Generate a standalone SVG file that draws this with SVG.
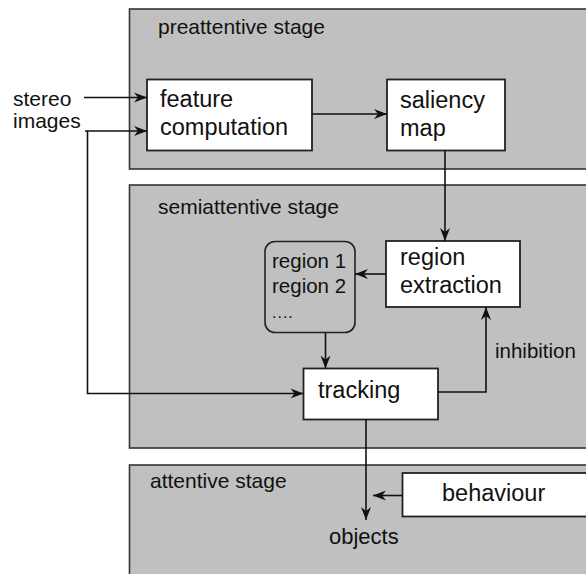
<svg xmlns="http://www.w3.org/2000/svg" width="586" height="574" viewBox="0 0 586 574">
  <style>
    .stage { fill: #c0c0c0; stroke: #333; stroke-width: 1.6; }
    .box { fill: #fff; stroke: #222; stroke-width: 1.8; }
    .t { font-family: "Liberation Sans", Arial, sans-serif; fill: #111; }
    .big { font-size: 23.5px; }
    .mid { font-size: 21px; }
    .sm { font-size: 20.5px; }
    .edge { fill: none; stroke: #111; stroke-width: 1.6; }
  </style>
  <defs>
    <marker id="arrow" markerUnits="userSpaceOnUse" markerWidth="14" markerHeight="12" refX="13" refY="6" orient="auto">
      <path d="M0,1 L13,6 L0,11 L4,6 z" fill="#111"/>
    </marker>
  </defs>

  <rect width="586" height="574" fill="#fff"/>

  <!-- processing stages -->
  <g id="stage-preattentive">
    <rect class="stage" x="129.5" y="9" width="470" height="160"/>
    <text class="t mid" x="158" y="34">preattentive stage</text>
  </g>
  <g id="stage-semiattentive">
    <rect class="stage" x="129.5" y="185" width="470" height="263"/>
    <text class="t mid" x="158" y="214">semiattentive stage</text>
  </g>
  <g id="stage-attentive">
    <rect class="stage" x="129.5" y="465" width="470" height="120"/>
    <text class="t mid" x="150" y="488">attentive stage</text>
  </g>

  <!-- input label -->
  <g id="stereo-images">
    <text class="t mid" x="13" y="106">stereo</text>
    <text class="t mid" x="13" y="128">images</text>
  </g>

  <g id="feature-computation">
    <rect class="box" x="147" y="79.5" width="165" height="71"/>
    <text class="t big" x="160" y="107">feature</text>
    <text class="t big" x="160" y="135">computation</text>
  </g>

  <g id="saliency-map">
    <rect class="box" x="387" y="79.5" width="118" height="71"/>
    <text class="t big" x="400" y="108">saliency</text>
    <text class="t big" x="400" y="136">map</text>
  </g>

  <g id="region-extraction">
    <rect class="box" x="386" y="241" width="134" height="66"/>
    <text class="t big" x="400" y="265">region</text>
    <text class="t big" x="400" y="293">extraction</text>
  </g>

  <g id="region-list">
    <rect x="265" y="241.5" width="90" height="91" rx="10" ry="10" fill="#c0c0c0" stroke="#222" stroke-width="1.6"/>
    <text class="t sm" x="272" y="268">region 1</text>
    <text class="t sm" x="272" y="293">region 2</text>
    <text class="t" x="272" y="318" fill="#444" style="font-size:16px;letter-spacing:1px">....</text>
  </g>

  <g id="tracking">
    <rect class="box" x="303.5" y="368.5" width="134.5" height="51"/>
    <text class="t big" x="318" y="398">tracking</text>
  </g>

  <g id="behaviour">
    <rect class="box" x="402.5" y="473" width="190" height="43.5"/>
    <text class="t big" x="442" y="501">behaviour</text>
  </g>

  <g id="objects">
    <text class="t mid" x="329" y="544" style="font-size:22px">objects</text>
  </g>

  <g id="inhibition-label">
    <text class="t sm" x="495" y="358">inhibition</text>
  </g>

  <!-- connectors -->
  <g id="connectors">
    <path class="edge" d="M84,97.5 H147" marker-end="url(#arrow)"/>
    <path class="edge" d="M85,131 H147" marker-end="url(#arrow)"/>
    <path class="edge" d="M87.5,131 V393.5 H303.5" marker-end="url(#arrow)"/>
    <path class="edge" d="M312,114 H387" marker-end="url(#arrow)"/>
    <path class="edge" d="M445,150.5 V241" marker-end="url(#arrow)"/>
    <path class="edge" d="M386,274 H355" marker-end="url(#arrow)"/>
    <path class="edge" d="M325.5,332.5 V368.5" marker-end="url(#arrow)"/>
    <path class="edge" d="M438,392 H486 V307" marker-end="url(#arrow)"/>
    <path class="edge" d="M366,419.5 V520" marker-end="url(#arrow)"/>
    <path class="edge" d="M402.5,495.5 H373" marker-end="url(#arrow)"/>
  </g>
</svg>
